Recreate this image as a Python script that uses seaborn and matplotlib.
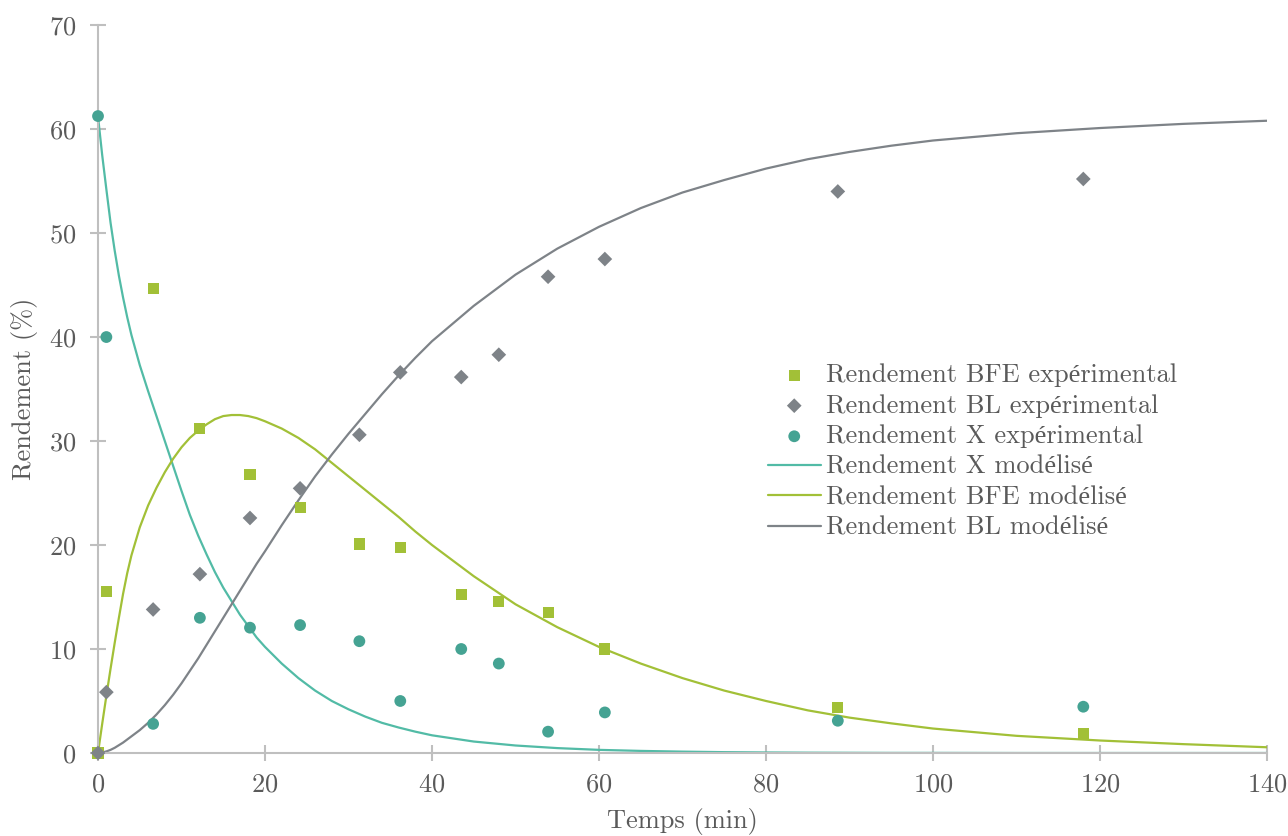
import pandas as pd
import matplotlib
matplotlib.use('Agg')
import matplotlib.pyplot as plt
import seaborn as sns

# experimental points
t_exp = [0, 1, 6.6, 12.2, 18.2, 24.2, 31.3, 36.2, 43.5, 48.0, 53.9, 60.7, 88.6, 118.0]
bfe_exp = [0, 15.5, 44.7, 31.2, 26.8, 23.6, 20.1, 19.75, 15.25, 14.55, 13.5, 10.0, 4.35, 1.85]
bl_exp = [0, 5.85, 13.8, 17.2, 22.6, 25.45, 30.6, 36.6, 36.15, 38.3, 45.8, 47.5, 54.0, 55.2]
x_exp = [61.25, 40.0, 2.8, 13.0, 12.05, 12.3, 10.75, 5.0, 10.0, 8.6, 2.05, 3.9, 3.1, 4.45]

# model curves
t_mod = [0, 0.5, 1, 1.5, 2, 2.5, 3, 3.5, 4, 5, 6, 7, 8, 9, 10, 11, 12, 13, 14, 15, 16,
         17, 18, 19, 20, 22, 24, 26, 28, 30, 32, 34, 36, 38, 40, 45, 50, 55, 60, 65,
         70, 75, 80, 85, 90, 95, 100, 110, 120, 130, 140]
x_mod = [61.2, 57.5, 54.2, 51.0, 48.3, 45.9, 43.8, 41.9, 40.2, 37.3, 34.8, 32.4, 30.0,
         27.6, 25.2, 22.9, 20.9, 19.1, 17.4, 15.9, 14.6, 13.3, 12.2, 11.1, 10.2, 8.6,
         7.2, 6.0, 5.0, 4.2, 3.5, 2.9, 2.45, 2.05, 1.7, 1.1, 0.72, 0.47, 0.3, 0.2, 0.13,
         0.08, 0.05, 0.03, 0.02, 0.01, 0.01, 0, 0, 0, 0]
bfe_mod = [0, 2.8, 5.5, 8.1, 10.6, 13.0, 15.3, 17.3, 19.0, 21.7, 23.8, 25.5, 27.0, 28.3,
           29.4, 30.3, 31.0, 31.6, 32.1, 32.4, 32.5, 32.5, 32.4, 32.2, 31.9, 31.2, 30.3,
           29.2, 27.9, 26.6, 25.3, 24.0, 22.7, 21.3, 20.0, 17.0, 14.3, 12.1, 10.2, 8.6,
           7.2, 6.0, 5.0, 4.1, 3.4, 2.85, 2.35, 1.65, 1.2, 0.85, 0.55]
bl_mod = [0, 0.05, 0.15, 0.3, 0.5, 0.75, 1.0, 1.3, 1.6, 2.2, 2.9, 3.7, 4.6, 5.6, 6.7,
          7.9, 9.1, 10.4, 11.7, 13.0, 14.3, 15.6, 16.9, 18.2, 19.4, 21.9, 24.3, 26.6,
          28.7, 30.7, 32.6, 34.5, 36.3, 38.0, 39.6, 43.0, 46.0, 48.5, 50.6, 52.4, 53.9,
          55.1, 56.2, 57.1, 57.8, 58.4, 58.9, 59.6, 60.1, 60.5, 60.8]

green = '#A2C037'
gray = '#7E8388'
teal_pt = '#45A393'
teal_line = '#52BBA6'
text_col = '#5A5A5A'
axis_col = '#BFBFBF'

sns.set_theme(style='white')
plt.rcParams['font.family'] = ['cmr10', 'Liberation Serif']
plt.rcParams['mathtext.fontset'] = 'cm'
plt.rcParams['axes.formatter.use_mathtext'] = True

df_exp = pd.DataFrame({'t': t_exp, 'bfe': bfe_exp, 'bl': bl_exp, 'x': x_exp})
df_mod = pd.DataFrame({'t': t_mod, 'x': x_mod, 'bfe': bfe_mod, 'bl': bl_mod})

fig = plt.figure(figsize=(12.88, 8.36), dpi=100)
ax = fig.add_axes([0.0761, 0.0993, 0.9076, 0.8707])

sns.lineplot(data=df_mod, x='t', y='x', color=teal_line, lw=1.6, ax=ax,
             label='Rendement X modélisé')
sns.lineplot(data=df_mod, x='t', y='bfe', color=green, lw=1.6, ax=ax,
             label='Rendement BFE modélisé')
sns.lineplot(data=df_mod, x='t', y='bl', color=gray, lw=1.6, ax=ax,
             label='Rendement BL modélisé')

sns.scatterplot(data=df_exp, x='t', y='bfe', marker='s', s=64, color=green,
                edgecolor='none', ax=ax, clip_on=False, zorder=3,
                label='Rendement BFE expérimental')
sns.scatterplot(data=df_exp, x='t', y='bl', marker='D', s=56, color=gray,
                edgecolor='none', ax=ax, clip_on=False, zorder=3,
                label='Rendement BL expérimental')
sns.scatterplot(data=df_exp, x='t', y='x', marker='o', s=72, color=teal_pt,
                edgecolor='none', ax=ax, clip_on=False, zorder=3,
                label='Rendement X expérimental')

ax.set_xlim(0, 140)
ax.set_ylim(0, 70)
ax.set_xticks(range(0, 141, 20))
ax.set_yticks(range(0, 71, 10))

for side in ['top', 'right']:
    ax.spines[side].set_visible(False)
for side in ['left', 'bottom']:
    ax.spines[side].set_color(axis_col)
    ax.spines[side].set_linewidth(1.5)

ax.tick_params(axis='both', direction='inout', length=11, width=1.5,
               color=axis_col, labelcolor=text_col, labelsize=19,
               bottom=True, left=True)
ax.tick_params(axis='y', pad=10)
ax.tick_params(axis='x', pad=9)

ax.set_xlabel('Temps (min)', fontsize=19, color=text_col, labelpad=8)
ax.set_ylabel('Rendement (%)', fontsize=19, color=text_col, labelpad=8)

handles, labels = ax.get_legend_handles_labels()
order = [3, 4, 5, 0, 1, 2]
ax.legend([handles[i] for i in order], [labels[i] for i in order],
          loc='center left', bbox_to_anchor=(0.573, 0.414), frameon=False,
          fontsize=19, labelcolor=text_col, handlelength=2.0, handletextpad=0.2,
          labelspacing=0.26, borderpad=0, borderaxespad=0)

fig.savefig('out.png', dpi=100)
